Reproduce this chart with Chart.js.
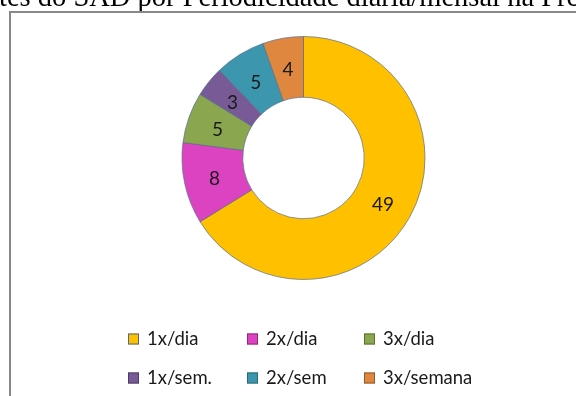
<!DOCTYPE html>
<html>
<head>
<meta charset="utf-8">
<script src="https://cdn.jsdelivr.net/npm/chart.js@4/dist/chart.umd.min.js"></script>
<style>
  html, body { margin: 0; padding: 0; background: #fff; }
  #wrap { width: 576px; height: 396px; position: relative; }
</style>
</head>
<body>
<div id="wrap"><canvas id="periodChart"></canvas></div>
<script>
// utentes por periodicidade
const labels = ['1x/dia', '2x/dia', '3x/dia', '1x/sem.', '2x/sem', '3x/semana'];
const counts = [49, 8, 5, 3, 5, 4];
const colors = ['#FFC000', '#DC43C0', '#8AA64E', '#775A96', '#3C97AE', '#DF873F'];
const edgeColors = ['#4F6A8C', '#8E2A7A', '#5C7034', '#4E3B64', '#2A6878', '#93592A'];

const TITLE = 'Utentes do SAD por Periodicidade diária/mensal na Prestação';
const FONT = 'Lato, Calibri, "Open Sans", sans-serif';

// frame + clipped heading above the plot
const framePlugin = {
  id: 'frame',
  beforeDraw(chart) {
    const c = chart.ctx;
    c.save();
    c.fillStyle = '#fff';
    c.fillRect(0, 0, chart.width, chart.height);
    c.font = '28.5px "Liberation Serif", "Times New Roman", serif';
    c.fillStyle = '#000';
    c.textBaseline = 'alphabetic';
    const skip = c.measureText('Uten').width;
    c.fillText(TITLE, -skip - 1, 6);
    c.strokeStyle = '#888';
    c.lineWidth = 2;
    c.beginPath();
    c.moveTo(10, chart.height + 5);
    c.lineTo(10, 12);
    c.lineTo(chart.width + 5, 12);
    c.stroke();
    c.restore();
  }
};

// value labels inside each slice
const valuePlugin = {
  id: 'values',
  afterDatasetsDraw(chart) {
    const c = chart.ctx;
    const meta = chart.getDatasetMeta(0);
    c.save();
    c.font = '19px ' + FONT;
    c.fillStyle = '#1a1a1a';
    c.textAlign = 'center';
    c.textBaseline = 'middle';
    meta.data.forEach((arc, i) => {
      const p = arc.tooltipPosition();
      c.fillText(String(counts[i]), p.x, p.y + 2);
    });
    c.restore();
  }
};

// three-column legend under the ring
const legendPlugin = {
  id: 'gridLegend',
  afterDraw(chart) {
    const c = chart.ctx;
    const colX = [128, 247, 364];
    const rowY = [339, 378];
    c.save();
    c.font = '18.5px ' + FONT;
    c.textBaseline = 'middle';
    labels.forEach((lab, i) => {
      const x = colX[i % 3], y = rowY[Math.floor(i / 3)];
      c.fillStyle = colors[i];
      c.fillRect(x, y - 5.5, 11, 11);
      c.strokeStyle = edgeColors[i];
      c.lineWidth = 1;
      c.strokeRect(x + 0.5, y - 5, 10, 10);
      c.fillStyle = '#1a1a1a';
      c.fillText(lab, x + 19, y);
    });
    c.restore();
  }
};

new Chart(document.getElementById('periodChart'), {
  type: 'doughnut',
  data: {
    labels,
    datasets: [{
      data: counts,
      backgroundColor: colors,
      borderColor: 'rgba(90,110,140,0.7)',
      borderWidth: 1
    }]
  },
  options: {
    responsive: true, maintainAspectRatio: false,
    animation: false,
    cutout: '50%',
    layout: { padding: { top: 36, bottom: 116, left: 60, right: 29 } },
    plugins: { legend: { display: false }, tooltip: { enabled: false } }
  },
  plugins: [framePlugin, valuePlugin, legendPlugin]
});
</script>
</body>
</html>
